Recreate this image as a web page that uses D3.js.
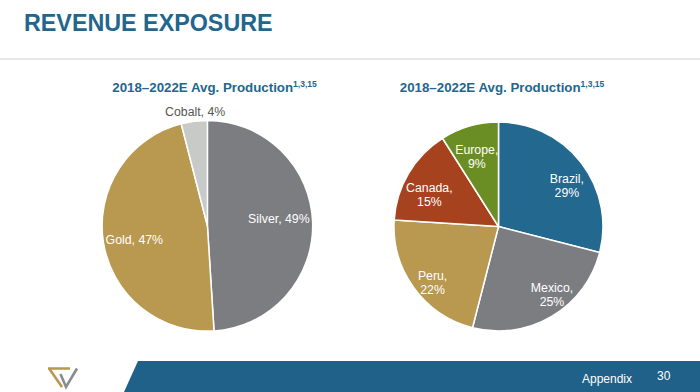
<!DOCTYPE html>
<html><head><meta charset="utf-8">
<script src="https://cdn.jsdelivr.net/npm/d3@7"></script>
<style>
html,body{margin:0;padding:0;background:#fff;}
svg{display:block;font-family:"Liberation Sans",Arial,Helvetica,sans-serif;}
</style></head>
<body>
<svg id="c" width="700" height="392"></svg>
<script>
// ---- data ----
const metalCategories = ["Silver", "Gold", "Cobalt"];
const metalValues = [49, 47, 4];
const regionCategories = ["Brazil", "Mexico", "Peru", "Canada", "Europe"];
const regionValues = [29, 25, 22, 15, 9];
const chartTitle = "REVENUE EXPOSURE";
const pieTitle = "2018–2022E Avg. Production";
const pieTitleNote = "1,3,15";
const footerText = "Appendix";
const pageNumber = "30";

// ---- styling / layout ----
const colorMap = {
  Silver: "#7c7d81", Gold: "#b9984f", Cobalt: "#c8cac8",
  Brazil: "#22688f", Mexico: "#7c7d81", Peru: "#b9984f", Canada: "#a6421e", Europe: "#6a8e23"
};
const blue = "#22668d";
const svg = d3.select("#c");

svg.append("text").attr("x", 24).attr("y", 30.5)
  .attr("font-size", 23.3).attr("font-weight", "bold").attr("fill", blue)
  .text(chartTitle);
svg.append("line").attr("x1", 0).attr("x2", 700).attr("y1", 59).attr("y2", 59)
  .attr("stroke", "#d0d0d0").attr("stroke-width", 1);

function drawTitle(cx) {
  const t = svg.append("text").attr("x", cx).attr("y", 92).attr("text-anchor", "middle")
    .attr("font-size", 13.3).attr("font-weight", "bold").attr("fill", blue);
  t.append("tspan").text(pieTitle);
  t.append("tspan").attr("font-size", 8.5).attr("dy", -5).text(pieTitleNote);
}
drawTitle(214.5);
drawTitle(502);

function drawPie(opts) {
  const { cats, vals, cx, cy, r, labelR, nudge, outside, twoLine } = opts;
  const data = cats.map((c, i) => ({ cat: c, val: vals[i] }));
  const pie = d3.pie().value(d => d.val).sort(null);
  const arcs = pie(data);
  const arc = d3.arc().innerRadius(0).outerRadius(r);
  const g = svg.append("g").attr("transform", `translate(${cx},${cy})`);
  g.selectAll("path").data(arcs).join("path")
    .attr("d", arc)
    .attr("fill", d => colorMap[d.data.cat])
    .attr("stroke", "#fff").attr("stroke-width", 1.5).attr("stroke-linejoin", "round");
  arcs.forEach(a => {
    const isOut = outside.includes(a.data.cat);
    const lr = isOut ? r * 1.08 : labelR;
    const [x0, y0] = d3.arc().innerRadius(lr).outerRadius(lr).centroid(a);
    const n = nudge[a.data.cat] || [0, 0];
    const x = x0 + n[0], y = y0 + n[1];
    const t = g.append("text").attr("text-anchor", "middle").attr("font-size", 12.3)
      .attr("fill", isOut ? "#555555" : "#ffffff");
    if (twoLine) {
      t.append("tspan").attr("x", x).attr("y", y - 2.5).text(a.data.cat + ",");
      t.append("tspan").attr("x", x).attr("y", y + 11.5).text(a.data.val + "%");
    } else {
      t.attr("x", x).attr("y", y + 4.3).text(a.data.cat + ", " + a.data.val + "%");
    }
  });
}

drawPie({
  cats: metalCategories, vals: metalValues, cx: 207.4, cy: 225.8, r: 105.3,
  labelR: 71.5, outside: ["Cobalt"], twoLine: false,
  nudge: { Silver: [0, -5], Gold: [-2.5, 3], Cobalt: [2, -1] }
});
drawPie({
  cats: regionCategories, vals: regionValues, cx: 498.5, cy: 226.5, r: 104.5,
  labelR: 81.5, outside: [], twoLine: true,
  nudge: { Brazil: [4, 9], Mexico: [12, -2], Peru: [0, 8], Canada: [1, 9], Europe: [1, 8] }
});

// ---- footer ----
svg.append("polygon").attr("points", "138,361 700,361 700,392 124,392").attr("fill", "#1f6189");
svg.append("path").attr("d", "M48,368.5 L70,368.5 M49.5,369 L62,387").attr("fill", "none")
  .attr("stroke", "#b9984f").attr("stroke-width", 2.6);
svg.append("path").attr("d", "M60.5,374 L66,387 L77,368.5").attr("fill", "none")
  .attr("stroke", "#8a8b8e").attr("stroke-width", 2.6).attr("stroke-linejoin", "miter");
svg.append("text").attr("x", 582).attr("y", 383).attr("font-size", 12).attr("fill", "#fff").text(footerText);
svg.append("text").attr("x", 657).attr("y", 380).attr("font-size", 12).attr("fill", "#fff").text(pageNumber);
</script>
</body></html>
